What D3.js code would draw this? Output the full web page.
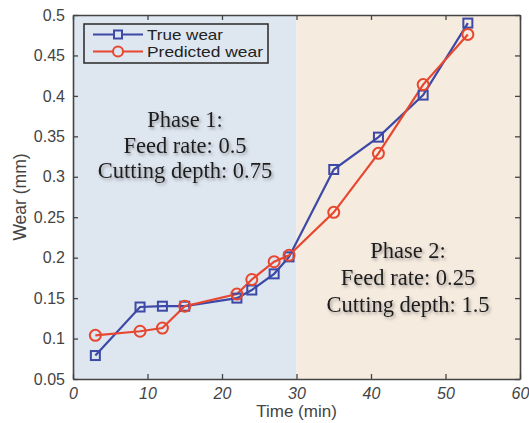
<!DOCTYPE html>
<html><head><meta charset="utf-8">
<script src="https://cdn.jsdelivr.net/npm/d3@7"></script>
<style>body{margin:0;background:#fff}svg{display:block}</style>
</head><body><div id="chart"></div>
<script>
const times = [3, 9, 12, 15, 22, 24, 27, 29, 35, 41, 47, 53];
const trueWear = [0.079, 0.139, 0.14, 0.14, 0.15, 0.16, 0.18, 0.201, 0.309, 0.349, 0.401, 0.49];
const predictedWear = [0.104, 0.109, 0.113, 0.14, 0.155, 0.173, 0.195, 0.203, 0.256, 0.329, 0.414, 0.476];
const xTicks = [0, 10, 20, 30, 40, 50, 60];
const yTicks = [0.05, 0.1, 0.15, 0.2, 0.25, 0.3, 0.35, 0.4, 0.45, 0.5];
const phases = [
  {from: 0, to: 30, lines: ["Phase 1:", "Feed rate: 0.5", "Cutting depth: 0.75"]},
  {from: 30, to: 60, lines: ["Phase 2:", "Feed rate: 0.25", "Cutting depth: 1.5"]}
];
const seriesNames = ["True wear", "Predicted wear"];

const W = 529, H = 423;
const m = {l: 73, r: 9, t: 15, b: 44};
const svg = d3.select("#chart").append("svg").attr("width", W).attr("height", H);
const x = d3.scaleLinear().domain([0, 60]).range([m.l, W - m.r]);
const y = d3.scaleLinear().domain([0.05, 0.5]).range([H - m.b, m.t]);

const defs = svg.append("defs");
const f = defs.append("filter").attr("id", "sh").attr("x", "-10%").attr("y", "-30%").attr("width", "130%").attr("height", "180%");
f.append("feDropShadow").attr("dx", 1.5).attr("dy", 2).attr("stdDeviation", 1.6).attr("flood-color", "#555").attr("flood-opacity", 0.55);

// phase backgrounds
const bgColors = ["#dee6f0", "#f6ebdf"];
phases.forEach((p, i) => {
  svg.append("rect").attr("x", x(p.from)).attr("y", y(0.5))
    .attr("width", x(p.to) - x(p.from)).attr("height", y(0.05) - y(0.5))
    .attr("fill", bgColors[i]);
});

// axes
const axCol = "#444";
const gx = svg.append("g").attr("transform", `translate(0,${y(0.05)})`)
  .call(d3.axisBottom(x).tickValues(xTicks).tickFormat(d3.format("d")).tickSizeInner(-5).tickSizeOuter(0).tickPadding(9));
const gxt = svg.append("g").attr("transform", `translate(0,${y(0.5)})`)
  .call(d3.axisTop(x).tickValues(xTicks).tickFormat("").tickSizeInner(-5).tickSizeOuter(0));
const gy = svg.append("g").attr("transform", `translate(${x(0)},0)`)
  .call(d3.axisLeft(y).tickValues(yTicks).tickFormat(d => d3.format("")(+d.toFixed(2))).tickSizeInner(-5).tickSizeOuter(0).tickPadding(8));
const gyr = svg.append("g").attr("transform", `translate(${x(60)},0)`)
  .call(d3.axisRight(y).tickValues(yTicks).tickFormat("").tickSizeInner(-5).tickSizeOuter(0));
[gx, gxt, gy, gyr].forEach(g => {
  g.selectAll(".domain").attr("stroke", axCol).attr("stroke-width", 1.6);
  g.selectAll(".tick line").attr("stroke", axCol).attr("stroke-width", 1.3);
  g.selectAll("text").attr("fill", "#444").attr("font-family", "Liberation Sans, Arial, sans-serif").attr("font-size", 16);
});
gx.selectAll("text").attr("font-style", "italic");

// axis labels
svg.append("text").attr("x", x(30)).attr("y", 417).attr("text-anchor", "middle")
  .attr("font-family", "Liberation Sans, Arial, sans-serif").attr("font-size", 17).attr("fill", "#444").text("Time (min)");
svg.append("text").attr("transform", `translate(26,${(y(0.05)+y(0.5))/2}) rotate(-90)`).attr("text-anchor", "middle")
  .attr("font-family", "Liberation Sans, Arial, sans-serif").attr("font-size", 17.5).attr("fill", "#444").text("Wear (mm)");

// phase annotations
const annPos = [{cx: 185, y0: 127, dy: 25.5}, {cx: 408, y0: 258, dy: 27}];
phases.forEach((p, i) => {
  const t = svg.append("text").attr("text-anchor", "middle").attr("filter", "url(#sh)")
    .attr("font-family", "Liberation Serif, Times New Roman, serif").attr("font-size", 22.5).attr("fill", "#1e1e1e");
  p.lines.forEach((ln, j) => t.append("tspan").attr("x", annPos[i].cx).attr("y", annPos[i].y0 + j * annPos[i].dy).text(ln));
});

// series
const blue = "#3c49a6", red = "#e8472f";
const line = d3.line().x(d => x(d[0])).y(d => y(d[1]));
const dTrue = times.map((t, i) => [t, trueWear[i]]);
const dPred = times.map((t, i) => [t, predictedWear[i]]);
svg.append("path").datum(dTrue).attr("d", line).attr("fill", "none").attr("stroke", blue).attr("stroke-width", 2.2);
svg.append("path").datum(dPred).attr("d", line).attr("fill", "none").attr("stroke", red).attr("stroke-width", 2.2);
svg.append("g").selectAll("rect").data(dTrue).join("rect")
  .attr("x", d => x(d[0]) - 4.5).attr("y", d => y(d[1]) - 4.5).attr("width", 9).attr("height", 9)
  .attr("fill", "none").attr("stroke", blue).attr("stroke-width", 2);
svg.append("g").selectAll("circle").data(dPred).join("circle")
  .attr("cx", d => x(d[0])).attr("cy", d => y(d[1])).attr("r", 5.5)
  .attr("fill", "none").attr("stroke", red).attr("stroke-width", 2);

// legend
const lg = svg.append("g");
lg.append("rect").attr("x", 84).attr("y", 24).attr("width", 184).attr("height", 39)
  .attr("fill", "#dee6f0").attr("stroke", "#333").attr("stroke-width", 1.6);
const cols = [blue, red];
const legendLen = [76, 116];
seriesNames.forEach((n, i) => {
  const yy = 34.5 + i * 17;
  lg.append("line").attr("x1", 93).attr("x2", 143).attr("y1", yy).attr("y2", yy).attr("stroke", cols[i]).attr("stroke-width", 2.2);
  if (i === 0) lg.append("rect").attr("x", 118 - 4).attr("y", yy - 4).attr("width", 8).attr("height", 8).attr("fill", "#dee6f0").attr("stroke", blue).attr("stroke-width", 2);
  else lg.append("circle").attr("cx", 118).attr("cy", yy).attr("r", 5).attr("fill", "#dee6f0").attr("stroke", red).attr("stroke-width", 2);
  lg.append("text").attr("x", 147).attr("y", yy + 5.5).attr("font-family", "Liberation Sans, Arial, sans-serif")
    .attr("font-size", 15).attr("textLength", legendLen[i]).attr("lengthAdjust", "spacingAndGlyphs")
    .attr("fill", "#222").text(n);
});
</script></body></html>
